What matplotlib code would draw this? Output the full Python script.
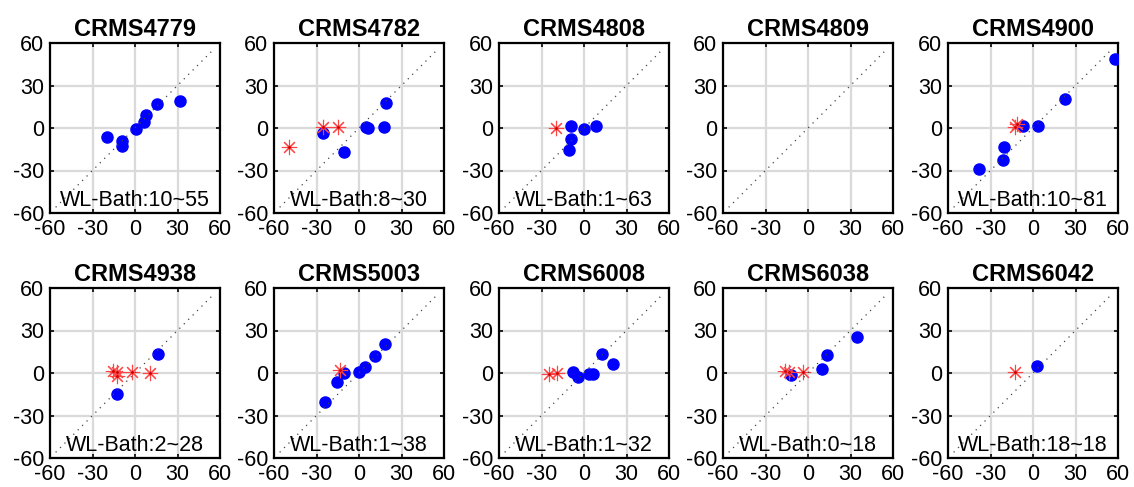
import numpy as np
import matplotlib
matplotlib.use('Agg')
from matplotlib import pyplot as plt

plt.rcParams['font.family'] = ['Liberation Sans', 'DejaVu Sans']
plt.rcParams['axes.unicode_minus'] = False

# station names and bath range labels
stations = ['CRMS4779', 'CRMS4782', 'CRMS4808', 'CRMS4809', 'CRMS4900',
            'CRMS4938', 'CRMS5003', 'CRMS6008', 'CRMS6038', 'CRMS6042']
labels = ['WL-Bath:10~55', 'WL-Bath:8~30', 'WL-Bath:1~63', '', 'WL-Bath:10~81',
          'WL-Bath:2~28', 'WL-Bath:1~38', 'WL-Bath:1~32', 'WL-Bath:0~18', 'WL-Bath:18~18']

# blue dots (x, y) per station
blue_x = [
    [-19.5, -9, -9, 0.5, 6, 8, 15.3, 32],
    [-25.5, -10.3, 5, 6, 17.8, 19],
    [-9, -9, -10.6, 0, 8.2],
    [],
    [57.7, 22.3, 3.6, -7, -20.4, -21, -37.9],
    [16, -13],
    [18.6, 11.3, 4.5, 0.2, -10.4, -15.8, -24],
    [12.5, 20.5, -8, -4.5, 3.7, 6.5],
    [34.8, 13.6, 10.1, -11.8],
    [2.8],
]
blue_y = [
    [-6, -9, -13, -0.5, 4, 9, 16.7, 19],
    [-3.3, -17, 1, 0, 0.7, 17.7],
    [1.4, -8, -15.8, -0.5, 1.2],
    [],
    [49, 20.7, 1.2, 1.4, -13.4, -22.4, -28.7],
    [13.4, -14.8],
    [20.2, 12, 4, 0.9, 0, -6.1, -20.7],
    [13.4, 6.4, 1, -2.6, -0.7, -0.7],
    [25.2, 13, 2.8, -1.4],
    [4.7],
]

# red asterisks (x, y) per station
red_x = [
    [],
    [-49.6, -25.5, -15],
    [-19.5],
    [],
    [-13, -11],
    [-15.3, -12.5, -13, -2.4, 10.6],
    [-13.4],
    [-24.5, -19.3],
    [-16.5, -13.6, -3.5],
    [-13],
]
red_y = [
    [],
    [-13.4, 0.7, 0.7],
    [0.3],
    [],
    [1, 3],
    [1.6, 0.5, -2, 1, 0.2],
    [2.1],
    [-0.7, 0],
    [1.6, 0.5, 1],
    [1],
]

ticks = [-60, -30, 0, 30, 60]

W, H = 1134, 487
fig = plt.figure(figsize=(W / 100, H / 100), dpi=100)

lefts = [50, 274, 499, 723, 948]
tops = [43, 288]
size = 170

for i in range(10):
    r, c = divmod(i, 5)
    ax = fig.add_axes([lefts[c] / W, 1 - (tops[r] + size) / H, size / W, size / H])
    ax.set_xlim(-60, 60)
    ax.set_ylim(-60, 60)
    ax.set_xticks(ticks)
    ax.set_yticks(ticks)
    ax.grid(True, color='#dadada', linewidth=1.6)
    ax.set_axisbelow(True)
    ax.tick_params(direction='in', length=3, width=1.2, labelsize=15.5,
                   top=True, right=True, pad=4)
    for sp in ax.spines.values():
        sp.set_linewidth(1.6)
    ax.plot(blue_x[i], blue_y[i], 'o', color='#0000ff', markersize=8, zorder=3)
    ax.plot(red_x[i], red_y[i], linestyle='none', marker=(8, 2, 0), color='#ff4444',
            markersize=11, markeredgewidth=0.8, zorder=4)
    ax.plot(red_x[i], red_y[i], '.', color='#cc0000', markersize=2, zorder=4)
    ax.plot([-56, 56], [-56, 56], linestyle=(0, (1, 4)), color='#444444',
            linewidth=0.9, zorder=5)
    ax.set_title(stations[i], fontsize=17, fontweight='bold', pad=5)
    if labels[i]:
        ax.text(0, -51.5, labels[i], ha='center', va='center', fontsize=15.5, zorder=6)

fig.savefig('out.png', dpi=100)
